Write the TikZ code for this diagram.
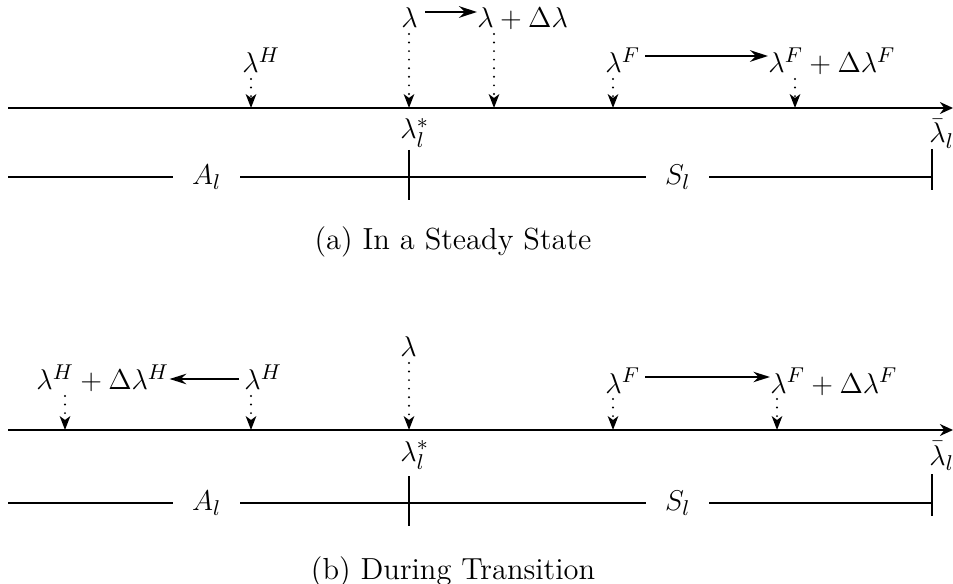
\documentclass[tikz,border=0pt]{standalone}
\usetikzlibrary{arrows.meta}
\begin{document}
\begin{tikzpicture}[x=0.42pt,y=-0.42pt,font=\fontsize{12.8}{15}\selectfont,
  axisline/.style={line width=0.8pt,-{Stealth[length=5.5pt,width=5pt]}},
  dropline/.style={line width=0.9pt,line cap=round,dash pattern=on 0pt off 3.6pt,
     -{Stealth[length=5.8pt,width=4.4pt,inset=1.6pt,line cap=butt]},shorten <=2.5pt},
  movea/.style={line width=1.2pt,-{Stealth[length=7.5pt,width=4.8pt]}},
  moveb/.style={line width=0.75pt,-{Stealth[length=7pt,width=4.4pt]}},
  seg/.style={line width=0.65pt},
  tickline/.style={line width=0.55pt},
  lab/.style={inner sep=0pt,anchor=base west},
  seglab/.style={inner xsep=7.8pt,inner ysep=0pt,anchor=west},
  captext/.style={inner sep=0pt}]
\useasboundingbox (0,0) rectangle (953,584);

% ---------------- panel (a) ----------------
\coordinate (aL) at (8,108); \coordinate (aR) at (953,108);
\draw[axisline] (aL) -- (aR);
\coordinate (aH) at (251,108);
\coordinate (aM) at (409,108);
\coordinate (aMd) at (494,108);
\coordinate (aF) at (613,108);
\coordinate (aFd) at (795,108);

\node[lab] (aHl) at (242,73) {$\lambda^H$};
\node[lab] (aMl) at (401,28) {$\lambda$};
\node[lab] (aMdl) at (477,28) {$\lambda+\Delta\lambda$};
\node[lab] (aFl) at (605,73) {$\lambda^F$};
\node[lab] (aFdl) at (768,73) {$\lambda^F+\Delta\lambda^F$};

\draw[dropline] (aHl.base -| aH) -- (aH);
\draw[dropline] (aMl.base -| aM) -- (aM);
\draw[dropline] (aMdl.base -| aMd) -- (aMd);
\draw[dropline] (aFl.base -| aF) -- (aF);
\draw[dropline] (aFdl.base -| aFd) -- (aFd);

\coordinate (aY1) at (0,12);
\coordinate (aY2) at (0,56);
\draw[movea,shorten <=3pt] (aMl.east |- aY1) -- (aMdl.west |- aY1);
\draw[movea,shorten <=2pt] (aFl.east |- aY2) -- (aFdl.west |- aY2);

\node[lab] (aStar) at (400,139) {$\lambda_l^*$};
\node[lab] (aBar) at (929,143) {$\bar\lambda_l$};

\coordinate (aSL) at (8,177); \coordinate (aSR) at (932,177);
\node[seglab] (aA) at (173,177) {$A_l$};
\node[seglab] (aS) at (646,177) {$S_l$};
\draw[seg] (aSL) -- (aA.west);
\draw[seg] (aA.east) -- (aS.west);
\draw[seg] (aS.east) -- (aSR);
\coordinate (aT1a) at (409,150); \coordinate (aT1b) at (409,200);
\coordinate (aT2a) at (932,149); \coordinate (aT2b) at (932,190);
\draw[tickline] (aT1a) -- (aT1b);
\draw[tickline] (aT2a) -- (aT2b);

\node[captext] (capa) at (453,242) {(a) In a Steady State};

% ---------------- panel (b) ----------------
\coordinate (bL) at (8,430); \coordinate (bR) at (953,430);
\draw[axisline] (bL) -- (bR);
\coordinate (bHd) at (65,430);
\coordinate (bH) at (251,430);
\coordinate (bM) at (409,430);
\coordinate (bF) at (613,430);
\coordinate (bFd) at (777,430);

\node[lab] (bHdl) at (36,390) {$\lambda^H+\Delta\lambda^H$};
\node[lab] (bHl) at (244,390) {$\lambda^H$};
\node[lab] (bMl) at (400,357) {$\lambda$};
\node[lab] (bFl) at (605,393) {$\lambda^F$};
\node[lab] (bFdl) at (770,393) {$\lambda^F+\Delta\lambda^F$};

\draw[dropline] (bHdl.base -| bHd) -- (bHd);
\draw[dropline] (bHl.base -| bH) -- (bH);
\draw[dropline] (bMl.base -| bM) -- (bM);
\draw[dropline] (bFl.base -| bF) -- (bF);
\draw[dropline] (bFdl.base -| bFd) -- (bFd);

\coordinate (bY1) at (0,379);
\coordinate (bY2) at (0,377);
\draw[moveb,shorten <=2pt] (bHl.west |- bY1) -- (bHdl.east |- bY1);
\draw[moveb,shorten <=2pt] (bFl.east |- bY2) -- (bFdl.west |- bY2);

\node[lab] (bStar) at (400,461) {$\lambda_l^*$};
\node[lab] (bBar) at (929,465) {$\bar\lambda_l$};

\coordinate (bSL) at (8,503); \coordinate (bSR) at (932,503);
\node[seglab] (bA) at (173,503) {$A_l$};
\node[seglab] (bS) at (646,503) {$S_l$};
\draw[seg] (bSL) -- (bA.west);
\draw[seg] (bA.east) -- (bS.west);
\draw[seg] (bS.east) -- (bSR);
\coordinate (bT1a) at (409,476); \coordinate (bT1b) at (409,526);
\coordinate (bT2a) at (932,474); \coordinate (bT2b) at (932,516);
\draw[tickline] (bT1a) -- (bT1b);
\draw[tickline] (bT2a) -- (bT2b);

\node[captext] (capb) at (453,572) {(b) During Transition};
\end{tikzpicture}
\end{document}
